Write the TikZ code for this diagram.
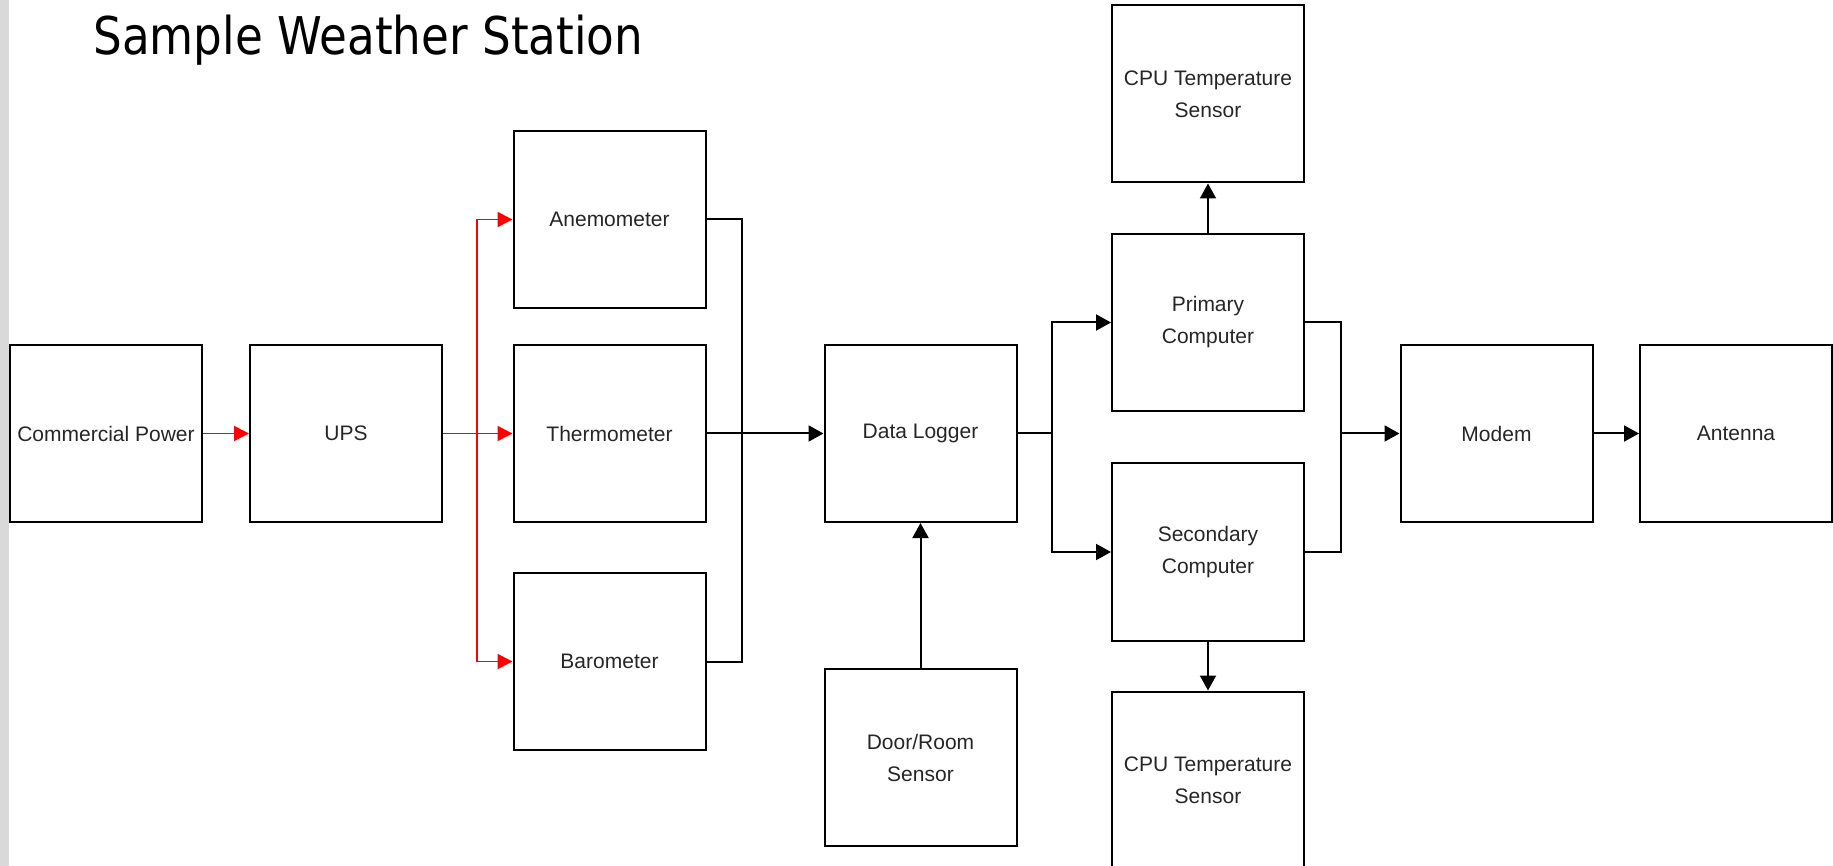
\documentclass[tikz,border=0pt]{standalone}
\usepackage{fontspec}
\setmainfont{Liberation Sans}
\newfontfamily\titlefont{DejaVu Sans}
\usetikzlibrary{arrows.meta}

\tikzset{
  blk/.style={draw,line width=1pt,minimum width=96pt,minimum height=88.5pt,
    align=center,inner sep=2pt,text=black!85,font=\fontsize{10.5}{16}\selectfont},
  sig/.style={line width=1pt,-{Triangle[length=7.5pt,width=8pt]}},
  pwr/.style={red,line width=0.8pt,-{Triangle[length=7.5pt,width=7.5pt]}}
}

\begin{document}
\begin{tikzpicture}[x=0.5pt,y=-0.5pt]
      \useasboundingbox (0,0) rectangle (1833,866);
      \fill[black!15] (0,0) rectangle (9,866);
      \node[anchor=base west,inner sep=0] (Title) at (93,55)
        {\titlefont\fontsize{26}{30}\selectfont\scalebox{0.87}[1]{Sample Weather Station}};

      \node[blk] (Power) at (106,433.5){Commercial Power};
      \node[blk] (UPS) at (346,433.5){UPS};
      \node[blk] (Anemo) at (609.5,219.5){Anemometer};
      \node[blk] (Thermo) at (609.5,433.5){Thermometer};
      \node[blk] (Baro) at (609.5,661.5){Barometer};
      \node[blk] (Logger) at (920.5,433.5){Data Logger};
      \node[blk] (Door) at (920.5,757.5){Door/Room\\Sensor};
      \node[blk] (Primary) at (1208,322.5){Primary\\Computer};
      \node[blk] (Secondary) at (1208,552){Secondary\\Computer};
      \node[blk] (CPUtop) at (1208,94){CPU Temperature\\Sensor};
      \node[blk] (CPUbot) at (1208,780){CPU Temperature\\Sensor};
      \node[blk] (Modem) at (1496.5,433.5){Modem};
      \node[blk] (Antenna) at (1736,433.5){Antenna};

      \coordinate (Rsplit) at (477,433.5);
      \coordinate (Join) at (742,433.5);
      \coordinate (Split) at (1052,433.5);
      \coordinate (Merge) at (1341,433.5);

      % power side
      \draw[pwr] (Power) -- (UPS);
      \draw[pwr] (UPS) -- (Thermo);
      \draw[pwr] (Rsplit) |- (Anemo);
      \draw[pwr] (Rsplit) |- (Baro);

      % sensors to logger
      \draw[line width=1pt] (Anemo.east) -| (Join);
      \draw[line width=1pt] (Baro.east) -| (Join);
      \draw[sig] (Thermo) -- (Logger);
      \draw[sig] (Door) -- (Logger);

      % computers
      \draw[line width=1pt] (Logger) -- (Split);
      \draw[sig] (Split) |- (Primary);
      \draw[sig] (Split) |- (Secondary);
      \draw[sig] (Primary) -- (CPUtop);
      \draw[sig] (Secondary) -- (CPUbot);
      \draw[line width=1pt] (Primary.east) -| (Merge);
      \draw[line width=1pt] (Secondary.east) -| (Merge);
      \draw[sig] (Merge) -- (Modem);
      \draw[sig] (Modem) -- (Antenna);
    \end{tikzpicture}
\end{document}
